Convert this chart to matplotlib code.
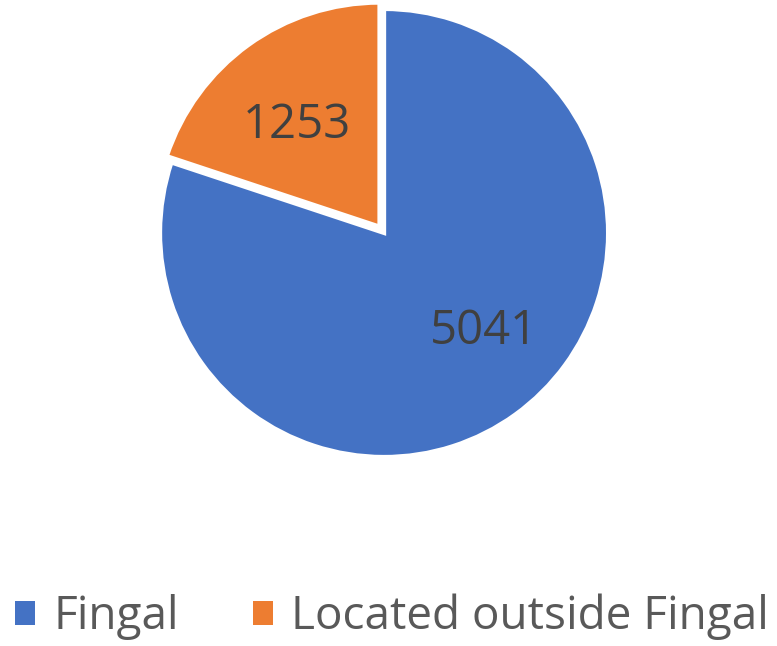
import matplotlib
matplotlib.use("Agg")
import matplotlib.pyplot as plt

# data
categories = ["Fingal", "Located outside Fingal"]
values = [5041, 1253]
colors = ["#4472C4", "#ED7D31"]
explode = [0, 0.035]

plt.rcParams['font.family'] = ['Open Sans', 'DejaVu Sans']

fig = plt.figure(figsize=(7.77, 6.46), dpi=100)
ax = fig.add_axes([0.206, 0.2926, 0.5766, 0.6935])

wedges, texts, autotexts = ax.pie(
    values,
    colors=colors,
    startangle=90,
    counterclock=False,
    explode=explode,
    autopct=lambda p: f"{p * sum(values) / 100:.0f}",
    pctdistance=0.62,
    wedgeprops=dict(edgecolor="white", linewidth=3),
    textprops=dict(color="#404040", fontsize=34),
)
# move the value labels to where they sit in the original
autotexts[0].set_position((0.445, -0.44))
autotexts[1].set_position((-0.39, 0.48))
for w in wedges:
    w.set_clip_on(False)
ax.set_xlim(-1, 1)
ax.set_ylim(-1, 1)
ax.set_aspect("equal")
ax.axis("off")

leg = fig.legend(
    wedges, categories,
    loc="center", bbox_to_anchor=(0.5045, 0.045),
    ncol=2, frameon=False,
    fontsize=33, handlelength=0.45, handleheight=0.45,
    handletextpad=0.4, columnspacing=1.6,
    borderpad=0, borderaxespad=0,
)
for t in leg.get_texts():
    t.set_color("#595959")
for h in leg.legend_handles:
    h.set_linewidth(0)

fig.savefig("out.png", dpi=100)
